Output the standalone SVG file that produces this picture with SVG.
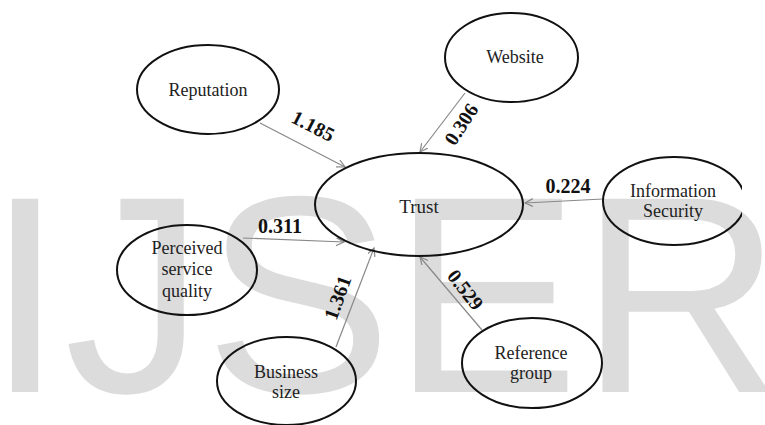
<svg xmlns="http://www.w3.org/2000/svg" width="765" height="425" viewBox="0 0 765 425">
<style>
.node ellipse{fill:none;stroke:#111;stroke-width:2}
.node text{font-family:"Liberation Serif","Times New Roman",serif;font-size:18px;fill:#222;text-anchor:middle}
.edge line{stroke:#888;stroke-width:1.2;marker-end:url(#arr)}
.lbl{font-family:"Liberation Serif","Times New Roman",serif;font-size:20px;font-weight:bold;fill:#111;text-anchor:middle}
.wm{font-family:"Liberation Sans",Arial,sans-serif;font-size:281px;fill:#dcdcdc}
</style>
<defs>
<marker id="arr" markerWidth="10" markerHeight="10" refX="8" refY="4" orient="auto" markerUnits="userSpaceOnUse">
<path d="M0,0 L8,4 L0,8" fill="none" stroke="#888" stroke-width="1.2"/>
</marker>
<clipPath id="clipR"><rect x="0" y="0" width="742" height="425"/></clipPath>
</defs>
<rect width="765" height="425" fill="#fff"/>
<text class="wm" x="-14" y="392">IJSER</text>
<g id="connectors" class="edge">
<line x1="260" y1="123" x2="345" y2="167"/>
<line x1="465" y1="93" x2="420" y2="152"/>
<line x1="603" y1="199" x2="525" y2="203"/>
<line x1="243" y1="238" x2="344" y2="242"/>
<line x1="336" y1="347" x2="374" y2="248"/>
<line x1="482" y1="330" x2="420" y2="257"/>
</g>
<g id="labels">
<text class="lbl" transform="translate(310,132) rotate(27)">1.185</text>
<text class="lbl" transform="translate(467,128) rotate(-57)">0.306</text>
<text class="lbl" x="568" y="193">0.224</text>
<text class="lbl" x="280" y="233">0.311</text>
<text class="lbl" transform="translate(344,300) rotate(-70)">1.361</text>
<text class="lbl" transform="translate(460,294) rotate(52)">0.529</text>
</g>
<g id="reputation" class="node">
<ellipse cx="208" cy="89.5" rx="71" ry="44.5"/>
<text x="208" y="96">Reputation</text>
</g>
<g id="website" class="node">
<ellipse cx="511.5" cy="57.5" rx="66.5" ry="44.5"/>
<text x="515" y="63">Website</text>
</g>
<g id="trust" class="node">
<ellipse cx="419" cy="204.5" rx="104" ry="51.5"/>
<text x="419" y="213" style="font-size:19px">Trust</text>
</g>
<g id="information-security" class="node">
<ellipse cx="674" cy="201" rx="71" ry="44" clip-path="url(#clipR)"/>
<text x="673" y="197">Information</text>
<text x="673" y="217">Security</text>
</g>
<g id="perceived-service-quality" class="node">
<ellipse cx="187" cy="270" rx="70" ry="45"/>
<text x="187" y="254">Perceived</text>
<text x="187" y="275">service</text>
<text x="187" y="297">quality</text>
</g>
<g id="business-size" class="node">
<ellipse cx="286.5" cy="381" rx="69.5" ry="44"/>
<text x="286" y="378">Business</text>
<text x="286" y="398">size</text>
</g>
<g id="reference-group" class="node">
<ellipse cx="532" cy="363" rx="70" ry="45"/>
<text x="531" y="359">Reference</text>
<text x="531" y="379">group</text>
</g>
</svg>
